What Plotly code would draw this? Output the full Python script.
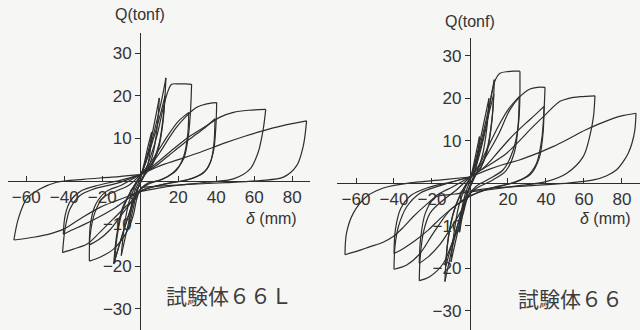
import plotly.graph_objects as go

# ---------------------------------------------------------------
# Load–displacement hysteresis, δ (mm) vs Q (tonf).
# Each cycle is a list of branches; each branch is a list of
# (δ, Q) points running from one peak to the next.
# ---------------------------------------------------------------

# 試験体66L
S66L_small1 = [
    [(0, 0.5), (2, 4), (4, 8), (6, 11.5)],
    [(6, 11.5), (5.2, 7), (3.5, 3), (1, 0.5), (-1.5, -2), (-3.5, -6), (-6, -11)],
    [(-6, -11), (-5, -6.5), (-3, -2.5), (-0.5, 0), (0, 0.5)],
]
S66L_small2 = [
    [(0, 0.5), (3, 5), (6, 10.5), (10, 19.5)],
    [(10, 19.5), (9, 13), (6.5, 6), (3.5, 2.5), (0, -0.5), (-3, -4), (-6, -9.5), (-10, -17.5)],
    [(-10, -17.5), (-8.5, -11), (-6, -5), (-3, -1.5), (0, 1)],
]
S66L_small3 = [
    [(0, 1), (3, 4.5), (7, 11), (11, 18.5), (13.5, 24.2)],
    [(13.5, 24.2), (12.5, 17), (10, 9), (6, 4), (2, 1.5), (-2, -2.5), (-5, -6.5), (-9, -12), (-14, -19.5)],
    [(-14, -19.5), (-12.5, -13), (-9.5, -6.5), (-5, -2.5), (0, 1.2)],
]
S66L_small4 = [
    [(0, 1.2), (3, 4.5), (7, 10), (10.5, 15.5), (13, 20)],
    [(13, 20), (12, 14), (9.5, 7.5), (6, 3.5), (2, 1.2), (-2, -2.5), (-5, -6.5), (-9, -12), (-13.5, -18.8)],
    [(-13.5, -18.8), (-12, -12.5), (-9, -6.5), (-5, -2.5), (0, 1.2)],
]
S66L_27a = [
    [(0, 1.2), (3, 3), (6, 6.5), (9, 11), (12, 17), (14.5, 21), (16.5, 22.7),
     (20, 22.8), (24, 22.8), (27, 22.7)],
    [(27, 22.7), (26.5, 17), (25.3, 10.6), (22.8, 5.2), (17.4, 2), (11, 0.3), (4, -0.5),
     (0, -2), (-2, -4.5), (-3.7, -8.1), (-7.2, -12), (-14.1, -16), (-21.2, -17.9), (-26.8, -18.8)],
    [(-26.8, -18.8), (-26.4, -12.8), (-23.8, -7.3), (-19.3, -3.8), (-12.3, -2.3), (-6, -1), (0, 1.5)],
]
S66L_27b = [
    [(0, 1.5), (5, 4), (10, 7.5), (15, 11), (20, 14), (25.5, 16.1)],
    [(25.5, 16.1), (25, 11), (23, 6), (19, 2.5), (12, 0.5), (4, -0.8), (0, -2), (-4, -4.5),
     (-10, -8), (-16, -11.5), (-22, -13.8), (-26.8, -15)],
    [(-26.8, -15), (-26.2, -10), (-23.5, -5.5), (-18, -2.5), (-10, -1), (0, 1.5)],
]
S66L_40a = [
    [(0, 1.5), (5, 3.5), (10, 6.5), (15, 10), (19, 12.6), (24.4, 15.3), (29.7, 17.3),
     (35, 18.1), (40.2, 18.4)],
    [(40.2, 18.4), (39.8, 13), (38.4, 6.7), (35, 2.8), (28, 0.7), (18, -0.3), (8, -1.2),
     (0, -2.5), (-4, -4.5), (-7.2, -5.8), (-14.2, -8.9), (-21.2, -12), (-28, -14.8),
     (-35.3, -16), (-40.9, -16.8)],
    [(-40.9, -16.8), (-39.6, -11.3), (-37, -6.6), (-31.7, -3.4), (-24.6, -1.9), (-12, -0.5), (0, 1.5)],
]
S66L_40b = [
    [(0, 1.5), (8, 3.5), (15, 6), (22, 8.5), (28, 10.5), (34, 12.5), (39.3, 14.6)],
    [(39.3, 14.6), (38.8, 9), (37, 4.5), (33, 1.8), (25, 0.3), (12, -0.8), (0, -2.3),
     (-6, -4), (-14, -6.5), (-22, -8.5), (-30, -10.3), (-36, -11.5), (-40.5, -12.5)],
    [(-40.5, -12.5), (-39.5, -8), (-36.5, -4.5), (-31, -2.3), (-22, -1), (-10, 0.2), (0, 1.5)],
]
S66L_67 = [
    [(0, 1.5), (8, 4), (17.4, 7.5), (26, 10.5), (35, 13), (42, 15), (49, 16.1),
     (57, 16.6), (66, 16.8)],
    [(66, 16.8), (64.7, 12.2), (62, 6.7), (57.7, 2.8), (49, 0.5), (35, -0.3), (20, -1),
     (8, -1.8), (0, -2.5), (-6, -3.5), (-12.4, -4.6), (-21.2, -6.2), (-31.7, -8.9),
     (-40.4, -11.3), (-47.5, -12.4), (-56.3, -13.2), (-66.5, -13.85)],
    [(-66.5, -13.85), (-64.2, -8.9), (-59.8, -4.2), (-52.8, -1.9), (-44, -0.3), (-30, 0.4),
     (-15, 0.9), (0, 1.5)],
]
S66L_88 = [
    [(0, 1.5), (10, 3.5), (20, 5), (30, 6.5), (45, 9), (55, 10.5), (63, 11.6), (75, 13),
     (87.5, 14.1)],
    [(87.5, 14.1), (85.8, 8.3), (82.3, 3.6), (75.3, 0.9), (63, 0.1), (45, -0.4), (25, -0.8),
     (10, -1.2), (0, -1.5)],
]

# 試験体66
S66_small1 = [
    [(0, 0.5), (2, 4.5), (5, 11)],
    [(5, 11), (4.2, 6.5), (2.5, 2.5), (0.5, 0), (-1.5, -2.5), (-3.5, -6.5), (-5.5, -11.5)],
    [(-5.5, -11.5), (-4.5, -6.5), (-2.5, -2.5), (0, 0.5)],
]
S66_small2 = [
    [(0, 0.5), (3, 5.5), (6, 11.5), (10, 20)],
    [(10, 20), (9, 13.5), (6.5, 6.5), (3.5, 2.5), (0, -1), (-3, -5), (-6, -10.5), (-10, -18.5)],
    [(-10, -18.5), (-8.5, -12), (-6, -5.5), (-3, -1.5), (0, 1)],
]
S66_small3 = [
    [(0, 1), (3, 5), (7, 12), (10.5, 19), (12.8, 24.4)],
    [(12.8, 24.4), (12, 17), (9.5, 9), (6, 4), (2, 1.5), (-2, -3), (-5, -7.5), (-9, -14.5), (-13.2, -23.1)],
    [(-13.2, -23.1), (-12, -15), (-9, -7.5), (-5, -2.5), (0, 1.2)],
]
S66_small4 = [
    [(0, 1.2), (3, 4.5), (7, 11), (10, 16.5), (12.5, 21)],
    [(12.5, 21), (11.5, 14.5), (9, 7.5), (5.5, 3.5), (2, 1.2), (-2, -3), (-5, -7.5), (-9, -13.5), (-12.8, -19.5)],
    [(-12.8, -19.5), (-11.5, -13), (-8.5, -6.5), (-4.5, -2.2), (0, 1.2)],
]
S66_27a = [
    [(0, 1.2), (2.6, 3.2), (6, 8.5), (8.8, 14), (11.4, 21), (13.5, 24.5), (15.8, 25.9),
     (20, 26.3), (23, 26.4), (26.3, 26.4)],
    [(26.3, 26.4), (26.2, 18.9), (25.4, 13.4), (22.8, 7.9), (17.5, 3.2), (9, 0.8), (3, -0.8),
     (-1, -3), (-3.5, -7), (-6, -10.5), (-8.8, -13.3), (-14, -18.8), (-21, -21.9), (-26.7, -22.9)],
    [(-26.7, -22.9), (-26.3, -18), (-24.6, -11.7), (-21, -7), (-14, -3.9), (-7, -1.5), (0, 1.5)],
]
S66_27b = [
    [(0, 1.5), (5, 4.5), (10, 9), (15, 13.5), (20, 17.3), (25.9, 20.4)],
    [(25.9, 20.4), (25.4, 14), (23.5, 7.5), (19, 3), (12, 0.8), (4, -1), (0, -2.5), (-4, -6),
     (-10, -10.5), (-16, -14.5), (-22, -17.3), (-26.7, -18.8)],
    [(-26.7, -18.8), (-26, -13), (-23.5, -7), (-18, -3), (-9, -0.8), (0, 1.5)],
]
S66_40a = [
    [(0, 1.5), (5, 4), (10, 7.5), (15, 11.5), (21, 17.3), (26.3, 20.4), (31.6, 22.2),
     (35.5, 22.6), (39.5, 22.6)],
    [(39.5, 22.6), (39, 17.3), (37.7, 10.2), (35, 4.7), (29.8, 1.6), (20, -0.2), (8, -1.5),
     (0, -3), (-5, -4.5), (-10.5, -6.3), (-19.3, -11.7), (-26.3, -16.5), (-33.3, -19.2), (-40, -20.2)],
    [(-40, -20.2), (-39.5, -14.9), (-37.7, -10.2), (-33.3, -5.5), (-26.3, -2.3), (-14, -0.3), (0, 1.5)],
]
S66_40b = [
    [(0, 1.5), (8, 4), (15, 7.5), (22, 11), (29, 14), (34, 16), (39, 18.1)],
    [(39, 18.1), (38.5, 12), (36.5, 6), (32, 2.2), (24, 0.3), (12, -1), (0, -3), (-7, -5),
     (-15, -8), (-22, -11), (-29, -13.5), (-35, -15.3), (-40, -16.5)],
    [(-40, -16.5), (-39.3, -11), (-36.5, -6), (-31, -2.8), (-22, -1), (-10, 0.3), (0, 1.5)],
]
S66_67 = [
    [(0, 1.5), (9, 4), (19.3, 7.1), (26, 10), (33.3, 13.4), (40, 16.3), (47.4, 19.3),
     (52, 20), (58, 20.4), (65.8, 20.6)],
    [(65.8, 20.6), (65, 15.7), (63, 11), (59.6, 6.3), (51, 2.4), (40, 0.4), (25, -0.6),
     (10, -1.5), (0, -2), (-8, -2.5), (-17.5, -3.1), (-23, -5), (-29.8, -7.8), (-35, -10.3),
     (-40.4, -12.5), (-46, -13.9), (-52.6, -14.9), (-59, -15.9), (-65.8, -16.8)],
    [(-65.8, -16.8), (-65, -11.7), (-61.4, -7), (-54.4, -3.1), (-45.6, -1.1), (-30, 0.2),
     (-15, 0.8), (0, 1.5)],
]
S66_88 = [
    [(0, 1.5), (10, 3.3), (18, 4.5), (26, 5.5), (35, 7), (44, 8.7), (52, 10.5), (61, 12.6),
     (68, 14), (75.4, 15.3), (81, 16), (87.4, 16.5)],
    [(87.4, 16.5), (86.8, 12.6), (85.3, 9.5), (83.3, 7.1), (80.5, 5), (77.2, 3.2), (72, 1.8),
     (65, 0.8), (50, 0), (30, -0.6), (10, -1.2), (0, -1.8)],
]

SPECIMENS = [
    ("試験体６６Ｌ", [S66L_small1, S66L_small2, S66L_small3, S66L_small4, S66L_27a, S66L_27b,
                   S66L_40a, S66L_40b, S66L_67, S66L_88]),
    ("試験体６６", [S66_small1, S66_small2, S66_small3, S66_small4, S66_27a, S66_27b,
                  S66_40a, S66_40b, S66_67, S66_88]),
]

X_TICKS = [-60, -40, -20, 20, 40, 60, 80]
Y_TICKS = [30, 20, 10, -10, -20, -30]

INK = "#2e2e2e"
PAPER = "#f6f6f4"
NUM_FONT = dict(family="Liberation Sans, Arial, sans-serif", size=17, color="#333333")


def to_xy(cycles):
    xs, ys = [], []
    for cyc in cycles:
        for br in cyc:
            xs += [p[0] for p in br] + [None]
            ys += [p[1] for p in br] + [None]
    return xs, ys


fig = go.Figure()

# Panel geometry (paper fractions) for the two specimens
panels = [
    dict(xdom=[8 / 640, 310 / 640], xr=[-69.6, 89.3], ydom=[0, 297 / 330], yr=[-34.98, 34.74]),
    dict(xdom=[337 / 640, 1.0], xr=[-70.0, 89.5], ydom=[0, 292 / 330], yr=[-34.5, 34.2]),
]

for i, ((label, cycles), pan) in enumerate(zip(SPECIMENS, panels)):
    sfx = "" if i == 0 else str(i + 1)
    xs, ys = to_xy(cycles)
    fig.add_trace(go.Scatter(
        x=xs, y=ys, mode="lines", xaxis="x" + sfx, yaxis="y" + sfx,
        line=dict(color=INK, width=1.2, shape="spline", smoothing=0.9),
        connectgaps=False, hoverinfo="skip", showlegend=False,
    ))

    x0 = pan["xdom"][0] + (0 - pan["xr"][0]) / (pan["xr"][1] - pan["xr"][0]) * (pan["xdom"][1] - pan["xdom"][0])
    y0 = pan["ydom"][0] + (0 - pan["yr"][0]) / (pan["yr"][1] - pan["yr"][0]) * (pan["ydom"][1] - pan["ydom"][0])

    fig.update_layout(**{
        "xaxis" + sfx: dict(
            domain=pan["xdom"], range=pan["xr"], anchor="free", position=y0,
            showline=True, linecolor=INK, linewidth=1.3, showgrid=False, zeroline=False,
            tickvals=X_TICKS, ticks="inside", ticklen=5, tickcolor=INK, tickwidth=1,
            tickfont=NUM_FONT, fixedrange=True,
        ),
        "yaxis" + sfx: dict(
            domain=pan["ydom"], range=pan["yr"], anchor="free", position=x0,
            showline=True, linecolor=INK, linewidth=1.3, showgrid=False, zeroline=False,
            tickvals=Y_TICKS, ticks="outside", ticklen=5, tickcolor=INK, tickwidth=1,
            tickfont=NUM_FONT, fixedrange=True,
        ),
    })

    xr, yr = "x" + sfx, "y" + sfx
    # origin label, set just left of the Q axis
    fig.add_annotation(x=-3.5, y=0, xref=xr, yref=yr, text="0", showarrow=False,
                       yanchor="top", yshift=-2, font=NUM_FONT)
    # axis titles
    fig.add_annotation(x=x0, y=1.0 - (14 if i == 0 else 22) / 330, xref="paper", yref="paper",
                       text="Q(tonf)", showarrow=False, xanchor="center", yanchor="middle",
                       font=dict(family="Liberation Sans, Arial, sans-serif", size=16, color="#333333"))
    fig.add_annotation(x=(271 if i == 0 else 605) / 640, y=1.0 - 218 / 330, xref="paper", yref="paper",
                       text="<i>δ</i> (mm)", showarrow=False, xanchor="center", yanchor="middle",
                       font=dict(family="Liberation Sans, Arial, sans-serif", size=16, color="#333333"))
    # specimen name
    fig.add_annotation(x=(229 if i == 0 else 570) / 640, y=1.0 - (295 if i == 0 else 298) / 330,
                       xref="paper", yref="paper", text=label, showarrow=False,
                       xanchor="center", yanchor="middle",
                       font=dict(family="Noto Sans CJK JP", size=21, color="#3c3c3c"))

fig.update_layout(
    width=640, height=330, margin=dict(l=0, r=0, t=0, b=0),
    paper_bgcolor=PAPER, plot_bgcolor="rgba(0,0,0,0)",
)

fig.write_html("out.html", config={"displayModeBar": False})
